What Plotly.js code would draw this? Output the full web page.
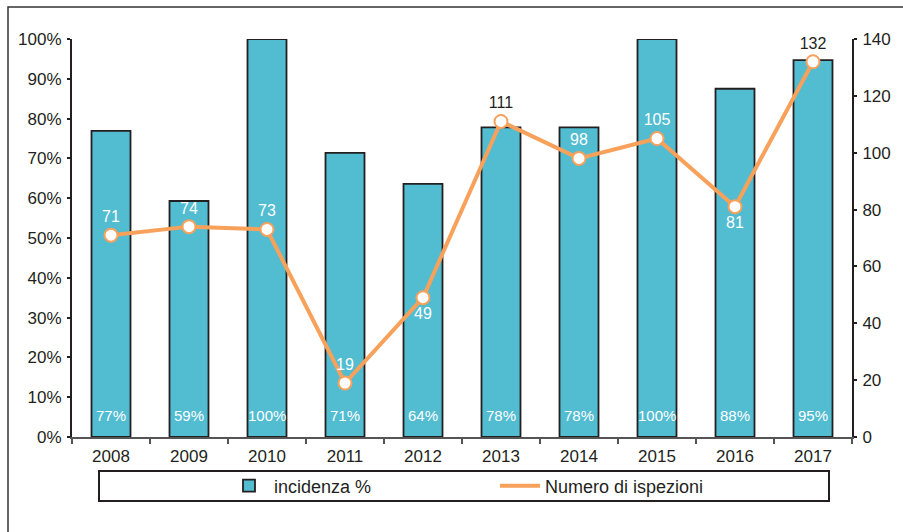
<!DOCTYPE html>
<html><head><meta charset="utf-8">
<script src="https://cdn.plot.ly/plotly-3.0.1.min.js"></script>
<style>html,body{margin:0;padding:0;background:#fff}#chart{width:903px;height:532px}</style>
</head><body><div id="chart"></div>
<script>
const years = ['2008','2009','2010','2011','2012','2013','2014','2015','2016','2017'];
const incidenza = [0.769,0.593,1.0,0.714,0.636,0.778,0.778,1.0,0.875,0.947];
const ispezioni = [71,74,73,19,49,111,98,105,81,132];
const leftTicks = [0,0.1,0.2,0.3,0.4,0.5,0.6,0.7,0.8,0.9,1.0];
const rightTicks = [0,20,40,60,80,100,120,140];
const seriesNames = ['incidenza %','Numero di ispezioni'];

// style arrays for point labels
const labelPos = ['top center','top center','top center','top center','bottom center','top center','top center','top center','bottom center','top center'];
const labelColor = ['#fff','#fff','#fff','#fff','#fff','#231F20','#fff','#fff','#fff','#231F20'];

const dark = '#231F20';
const barColor = '#52BCD1';
const lineColor = '#F8A15B';
const font = '"Liberation Sans", Arial, Helvetica, sans-serif';

const L = 72, R = 51, T = 39, B = 95, W = 903, H = 532;
const pw = W - L - R, ph = H - T - B;
const px = x => (x - L) / pw;
const py = y => (H - B - y) / ph;

const traces = [
  {
    type: 'bar', x: years, y: incidenza, name: seriesNames[0],
    width: 0.5,
    marker: {color: barColor, line: {color: dark, width: 1.8}},
    hoverinfo: 'skip'
  },
  {
    type: 'scatter', mode: 'lines+markers+text', x: years, y: ispezioni,
    yaxis: 'y2', showlegend: false, name: seriesNames[1],
    line: {color: lineColor, width: 4},
    marker: {size: 13, color: '#fff', line: {color: lineColor, width: 2}},
    text: ispezioni.map(String),
    textposition: labelPos,
    textfont: {color: labelColor, size: 16, family: font},
    cliponaxis: false,
    hoverinfo: 'skip'
  },
  {
    type: 'scatter', mode: 'lines', x: [null], y: [null], yaxis: 'y2',
    name: seriesNames[1], line: {color: lineColor, width: 4}, showlegend: true
  }
];

// bar value labels, anchored at each bar's base (category index i)
const barLabels = years.map((yr, i) => ({
  x: i, y: 0, xref: 'x', yref: 'y',
  text: Math.round(incidenza[i] * 100) + '%',
  showarrow: false, yanchor: 'middle', yshift: 22,
  font: {color: '#fff', size: 15, family: font}
}));

const tickStyle = {ticklen: 3, tickcolor: dark, tickwidth: 2, showgrid: false, zeroline: false};

const layout = {
  width: W, height: H,
  margin: {l: L, r: R, t: T, b: B, pad: 0},
  paper_bgcolor: '#fff', plot_bgcolor: 'rgba(0,0,0,0)',
  font: {family: font, size: 17, color: dark},
  showlegend: true,
  xaxis: {
    type: 'category', range: [-0.5, 9.5], tickson: 'boundaries',
    ticks: 'outside', ticklen: 5, tickcolor: '#555', tickwidth: 1.5,
    showline: true, linecolor: '#555', linewidth: 1.5,
    showgrid: false, zeroline: false, ticklabelstandoff: 3,
    tickfont: {size: 17, color: dark}
  },
  yaxis: Object.assign({
    range: [0, 1.0], tickvals: leftTicks, tickformat: '.0%',
    ticks: 'outside', ticklabelstandoff: 2,
    showline: true, linecolor: dark, linewidth: 2,
    tickfont: {size: 17, color: dark}
  }, tickStyle),
  yaxis2: Object.assign({
    overlaying: 'y', side: 'right', range: [0, 140], tickvals: rightTicks,
    ticks: 'outside', ticklabelstandoff: 2,
    showline: true, linecolor: dark, linewidth: 2,
    tickfont: {size: 17, color: dark}
  }, tickStyle),
  yaxis3: Object.assign({
    overlaying: 'y', side: 'left', anchor: 'x', range: [0, 1.0], tickvals: leftTicks,
    ticks: 'inside', showticklabels: false, showline: false
  }, tickStyle),
  yaxis4: Object.assign({
    overlaying: 'y', side: 'right', anchor: 'x', range: [0, 140], tickvals: rightTicks,
    ticks: 'inside', showticklabels: false, showline: false
  }, tickStyle),
  legend: {
    orientation: 'h', x: px(495), xanchor: 'center', y: py(486), yanchor: 'middle',
    bgcolor: 'rgba(0,0,0,0)', borderwidth: 0, entrywidth: 216,
    font: {size: 18, color: dark}, itemwidth: 40
  },
  annotations: barLabels,
  shapes: [
    {type: 'rect', xref: 'paper', yref: 'paper', x0: px(8), x1: px(1000), y0: py(700), y1: py(7),
     line: {color: '#333', width: 1.5}, fillcolor: 'rgba(0,0,0,0)', layer: 'below'},
    {type: 'rect', xref: 'paper', yref: 'paper', x0: px(99), x1: px(829), y0: py(501), y1: py(471),
     line: {color: dark, width: 2}, fillcolor: 'rgba(0,0,0,0)', layer: 'below'}
  ]
};

Plotly.newPlot('chart', traces, layout, {displayModeBar: false, staticPlot: true});
</script>
</body></html>
